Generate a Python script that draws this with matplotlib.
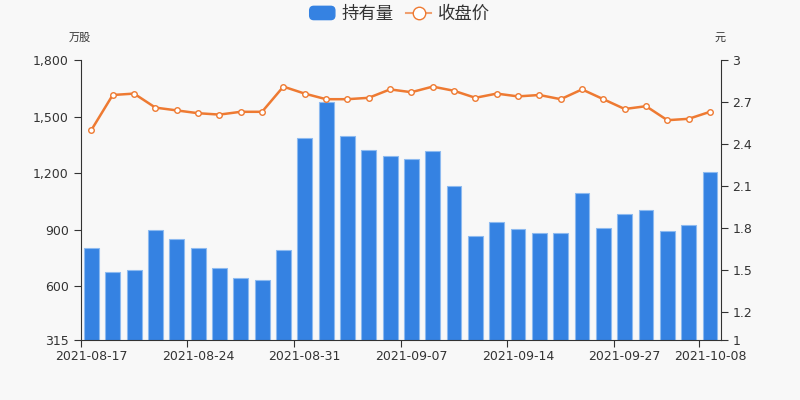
import matplotlib
matplotlib.use("Agg")
import matplotlib.pyplot as plt
from matplotlib.patches import Patch, FancyBboxPatch
from matplotlib.lines import Line2D
from matplotlib.legend_handler import HandlerPatch

plt.rcParams['font.family'] = ['DejaVu Sans', 'Noto Sans CJK SC']

dates = ["2021-08-17", "2021-08-18", "2021-08-19", "2021-08-20", "2021-08-23",
         "2021-08-24", "2021-08-25", "2021-08-26", "2021-08-27", "2021-08-30",
         "2021-08-31", "2021-09-01", "2021-09-02", "2021-09-03", "2021-09-06",
         "2021-09-07", "2021-09-08", "2021-09-09", "2021-09-10", "2021-09-13",
         "2021-09-14", "2021-09-15", "2021-09-16", "2021-09-17", "2021-09-22",
         "2021-09-27", "2021-09-28", "2021-09-29", "2021-09-30", "2021-10-08"]
holdings = [805, 674, 685, 898, 851, 801, 697, 642, 633, 792,
            1385, 1579, 1395, 1321, 1289, 1273, 1317, 1130, 865, 939,
            904, 881, 882, 1095, 909, 983, 1003, 893, 923, 1206]
close = [2.50, 2.75, 2.76, 2.66, 2.64, 2.62, 2.61, 2.63, 2.63, 2.81,
         2.76, 2.72, 2.72, 2.73, 2.79, 2.77, 2.81, 2.78, 2.73, 2.76,
         2.74, 2.75, 2.72, 2.79, 2.72, 2.65, 2.67, 2.57, 2.58, 2.63]
left_ticks = [315, 600, 900, 1200, 1500, 1800]
right_ticks = [1, 1.2, 1.5, 1.8, 2.1, 2.4, 2.7, 3]
label_idx = [0, 5, 10, 15, 20, 25, 29]

bg = '#f8f8f8'
bar_color = '#3582e2'
line_color = '#ee7a32'
text_color = '#333333'

fig = plt.figure(figsize=(8, 4), dpi=100, facecolor=bg)
ax = fig.add_axes([80.7/800, 60/400, 640/800, 280/400], facecolor=bg)
x = list(range(len(dates)))
ax.bar(x, holdings, width=0.7, color=bar_color, edgecolor='#8dbaf0', linewidth=0.8, zorder=2)
ax.set_xlim(-0.5, len(dates) - 0.5)
ax.set_ylim(315, 1800)
ax.set_yticks(left_ticks)
ax.set_yticklabels([f"{v:,}" for v in left_ticks])

# ticks at band boundaries, labels at centres
ax.set_xticks([i - 0.5 for i in label_idx])
ax.set_xticklabels([])
ax.set_xticks(label_idx, minor=True)
ax.set_xticklabels([dates[i] for i in label_idx], minor=True)
ax.tick_params(axis='x', which='major', length=5, color=text_color)
ax.tick_params(axis='x', which='minor', length=0, pad=7, labelsize=9, labelcolor=text_color)
ax.tick_params(axis='y', length=5, labelsize=9, labelcolor=text_color, color=text_color)

for s in ['top', 'right']:
    ax.spines[s].set_visible(False)
for s in ['left', 'bottom']:
    ax.spines[s].set_color(text_color)

ax2 = ax.twinx()
ax2.plot(x, close, color=line_color, linewidth=1.8, marker='o', markersize=4,
         markerfacecolor='white', markeredgecolor=line_color, markeredgewidth=1, zorder=3)
ax2.set_ylim(1, 3)
ax2.set_yticks(right_ticks)
ax2.set_yticklabels([f"{v:g}" for v in right_ticks])
ax2.tick_params(axis='y', length=5, labelsize=9, labelcolor=text_color, color=text_color)
for s in ['top', 'left', 'bottom']:
    ax2.spines[s].set_visible(False)
ax2.spines['right'].set_color(text_color)
ax2.set_xlim(-0.5, len(dates) - 0.5)

fig.text(80/800, 1 - 38/400, '万股', ha='center', va='center', fontsize=8,
         color=text_color, family=['Noto Sans CJK SC'])
fig.text(720/800, 1 - 38/400, '元', ha='center', va='center', fontsize=8,
         color=text_color, family=['Noto Sans CJK SC'])


class RoundHandler(HandlerPatch):
    def create_artists(self, legend, orig_handle, xdescent, ydescent, width, height, fontsize, trans):
        p = FancyBboxPatch((-xdescent, -ydescent), width, height,
                           boxstyle="round,pad=0,rounding_size=3",
                           facecolor=bar_color, edgecolor=bar_color, transform=trans)
        return [p]


handles = [Patch(facecolor=bar_color, edgecolor=bar_color),
           Line2D([0], [0], color='#f0a070', linewidth=1.5, marker='o', markersize=9,
                  markerfacecolor='white', markeredgecolor=line_color)]
fig.legend(handles, ['持有量', '收盘价'], loc='center', bbox_to_anchor=(0.5, 1 - 14/400),
           ncol=2, frameon=False, prop={'family': 'Noto Sans CJK SC', 'size': 12.5},
           handlelength=1.45, handleheight=0.8, columnspacing=0.7, handletextpad=0.4,
           labelcolor=text_color, handler_map={Patch: RoundHandler()})

fig.savefig('out.png', dpi=100, facecolor=bg)
